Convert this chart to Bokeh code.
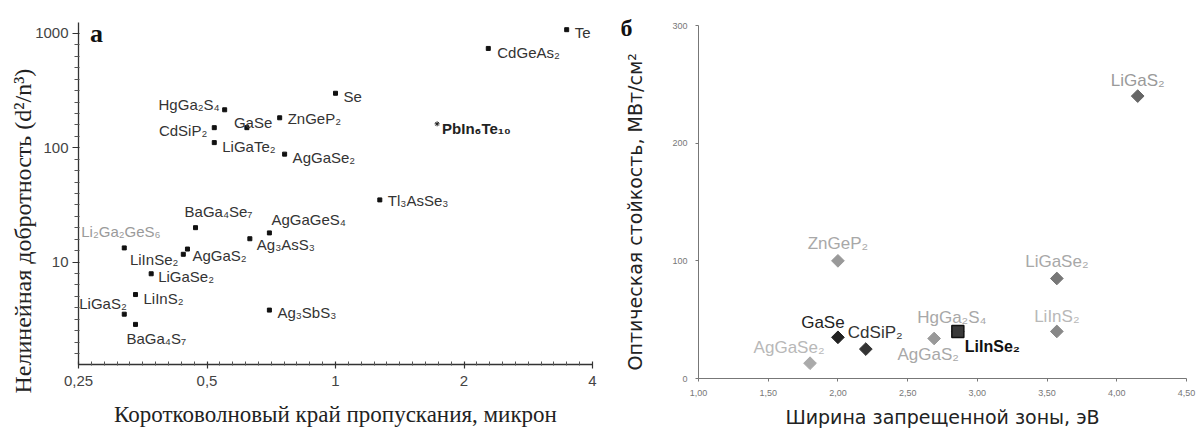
import math

from bokeh.core.properties import field, value
from bokeh.embed import file_html
from bokeh.layouts import column, row
from bokeh.models import (ColumnDataSource, CustomJSTickFormatter, FixedTicker,
                          Label, Range1d, Title)
from bokeh.plotting import figure
from bokeh.resources import INLINE

# ---------------------------------------------------------------------------
# Panel а: nonlinear figure of merit vs. short-wave transmission edge
# ---------------------------------------------------------------------------
a_names = ["Te", "CdGeAs₂", "Se", "ZnGeP₂", "GaSe", "HgGa₂S₄", "CdSiP₂",
           "LiGaTe₂", "AgGaSe₂", "Tl₃AsSe₃", "BaGa₄Se₇", "AgGaGeS₄",
           "Ag₃AsS₃", "Li₂Ga₂GeS₆", "LiInSe₂", "AgGaS₂", "LiGaSe₂",
           "LiInS₂", "LiGaS₂", "BaGa₄S₇", "Ag₃SbS₃"]
a_edge_um = [3.48, 2.28, 1.00, 0.74, 0.62, 0.55, 0.52,
             0.52, 0.76, 1.27, 0.47, 0.70,
             0.63, 0.32, 0.44, 0.45, 0.37,
             0.34, 0.32, 0.34, 0.70]
a_fom = [1080, 740, 300, 183, 150, 215, 150,
         111, 88, 35, 20, 18,
         16, 13.3, 11.7, 13.0, 7.9,
         5.2, 3.5, 2.85, 3.8]

pb_name = "PbIn₆Te₁₀"
pb_edge_um = 1.73
pb_fom = 162

a_x_ticks = [0.25, 0.5, 1, 2, 4]
a_y_ticks = [10, 100, 1000]

# ---------------------------------------------------------------------------
# Panel б: optical damage threshold vs. band gap
# ---------------------------------------------------------------------------
b_names = ["LiGaS₂", "ZnGeP₂", "LiGaSe₂", "LiInS₂", "HgGa₂S₄", "AgGaS₂",
           "GaSe", "CdSiP₂", "AgGaSe₂"]
b_gap_ev = [4.15, 2.00, 3.57, 3.57, 2.86, 2.69, 2.00, 2.20, 1.80]
b_lidt = [240, 100, 85, 40, 40, 34, 35, 25, 13]

liinse_name = "LiInSe₂"
liinse_gap_ev = 2.86
liinse_lidt = 40

b_x_ticks = [1.0, 1.5, 2.0, 2.5, 3.0, 3.5, 4.0, 4.5]
b_y_ticks = [0, 100, 200, 300]

# ---------------------------------------------------------------------------
# label placement: pixel offset from the point, alignment, colour
# ---------------------------------------------------------------------------
a_label_layout = {
    "Te": (8, 3, "left", "#333333"),
    "CdGeAs₂": (9, 4, "left", "#333333"),
    "Se": (8, 3, "left", "#333333"),
    "ZnGeP₂": (8, 1, "left", "#333333"),
    "GaSe": (-13, -5, "left", "#333333"),
    "HgGa₂S₄": (-5, -5, "right", "#333333"),
    "CdSiP₂": (-7, 3, "right", "#333333"),
    "LiGaTe₂": (8, 4, "left", "#333333"),
    "AgGaSe₂": (8, 3, "left", "#333333"),
    "Tl₃AsSe₃": (8, 1, "left", "#333333"),
    "BaGa₄Se₇": (-11, -16, "left", "#333333"),
    "AgGaGeS₄": (2, -13, "left", "#333333"),
    "Ag₃AsS₃": (7, 6, "left", "#333333"),
    "Li₂Ga₂GeS₆": (-43, -16, "left", "#9a9a9a"),
    "LiInSe₂": (-5, 5, "right", "#333333"),
    "AgGaS₂": (5, 6, "left", "#333333"),
    "LiGaSe₂": (7, 3, "left", "#333333"),
    "LiInS₂": (8, 4, "left", "#333333"),
    "LiGaS₂": (-45, -11, "left", "#333333"),
    "BaGa₄S₇": (-9, 14, "left", "#333333"),
    "Ag₃SbS₃": (8, 2, "left", "#333333"),
}

b_label_layout = {
    "LiGaS₂": (0, -16, "center", "#9a9a9a", "#666666"),
    "ZnGeP₂": (0, -17, "center", "#a8a8a8", "#999999"),
    "LiGaSe₂": (0, -17, "center", "#a8a8a8", "#777777"),
    "LiInS₂": (0, -15, "center", "#b8b8b8", "#888888"),
    "HgGa₂S₄": (-6, -14, "center", "#a8a8a8", "#888888"),
    "AgGaS₂": (-6, 16, "center", "#a8a8a8", "#999999"),
    "GaSe": (-15, -15, "center", "#222222", "#222222"),
    "CdSiP₂": (-18, -17, "left", "#333333", "#333333"),
    "AgGaSe₂": (-21, -16, "center", "#b8b8b8", "#aaaaaa"),
}

SANS = "Liberation Sans"
SERIF = "Liberation Serif"
WIDE_SANS = "DejaVu Sans"

# ---------------------------------------------------------------------------
# Panel а
# ---------------------------------------------------------------------------
pa = figure(width=598, height=432, x_axis_type="log", y_axis_type="log",
            x_range=Range1d(0.25, 4), y_range=Range1d(1.27, 1248),
            output_backend="svg", toolbar_location=None,
            min_border_left=78, min_border_right=6,
            min_border_top=22, min_border_bottom=68)
pa.outline_line_color = None
pa.xgrid.visible = False
pa.ygrid.visible = False

# evenly spaced (in log space) minor ticks: ten steps per octave / decade
a_minor_x = [a_x_ticks[0] * 2 ** (k / 10) for k in range(0, 41) if k % 10]
a_minor_y = [10 ** (k / 10) for k in range(1, 31) if k % 10]

pa.xaxis.ticker = FixedTicker(ticks=a_x_ticks, minor_ticks=a_minor_x)
pa.yaxis.ticker = FixedTicker(ticks=a_y_ticks, minor_ticks=a_minor_y)
pa.xaxis.formatter = CustomJSTickFormatter(
    code="return String(tick).replace('.', ',');")
pa.yaxis.formatter = CustomJSTickFormatter(code="return String(tick);")

for ax in (pa.xaxis[0], pa.yaxis[0]):
    ax.axis_line_color = "#333333"
    ax.axis_line_width = 1.3
    ax.major_tick_line_color = "#333333"
    ax.major_tick_line_width = 1.2
    ax.minor_tick_line_color = "#555555"
    ax.minor_tick_line_width = 1
    ax.major_label_text_font = SANS
    ax.major_label_text_font_size = "15px"
    ax.major_label_text_color = "#444444"

pa.xaxis.major_tick_in = 3
pa.xaxis.major_tick_out = 4
pa.xaxis.minor_tick_in = 3
pa.xaxis.minor_tick_out = 1
pa.xaxis.major_label_standoff = 7
pa.xaxis.axis_label = "Коротковолновый край пропускания, микрон"
pa.xaxis.axis_label_standoff = 13
pa.xaxis.axis_label_text_font = SERIF
pa.xaxis.axis_label_text_font_size = "23px"
pa.xaxis.axis_label_text_font_style = "normal"
pa.xaxis.axis_label_text_color = "#222222"

pa.yaxis.major_tick_in = 1
pa.yaxis.major_tick_out = 6
pa.yaxis.minor_tick_in = 1
pa.yaxis.minor_tick_out = 4
pa.yaxis.major_label_standoff = 4

# vertical axis caption, set a little below the frame centre
pa.add_layout(Title(text="Нелинейная добротность (d²/n³)", align="left",
                    offset=-29, standoff=-7, vertical_align="bottom",
                    text_font=SERIF, text_font_size="24px",
                    text_font_style="normal", text_color="#222222"), "left")

a_src = ColumnDataSource(dict(
    x=a_edge_um, y=a_fom, name=a_names,
    dx=[a_label_layout[n][0] for n in a_names],
    dy=[a_label_layout[n][1] for n in a_names],
    align=[a_label_layout[n][2] for n in a_names],
    color=[a_label_layout[n][3] for n in a_names],
))
pa.scatter("x", "y", source=a_src, marker="square", size=4,
           fill_color="#111111", line_color="#111111")
pa.text("x", "y", text="name", source=a_src, x_offset="dx", y_offset="dy",
        text_align=field("align"), text_color=field("color"),
        text_baseline="middle", text_font=value(SANS),
        text_font_size="15px")

pb_src = ColumnDataSource(dict(x=[pb_edge_um], y=[pb_fom], name=[pb_name]))
pa.scatter("x", "y", source=pb_src, marker="asterisk", size=5,
           line_color="#222222", line_width=1)
pa.text("x", "y", text="name", source=pb_src, x_offset=5, y_offset=5,
        text_baseline="middle", text_font=value(SANS),
        text_font_size="15px", text_font_style="bold",
        text_color="#222222")

pa.add_layout(Label(x=0.266, y=1000, text="а", text_font=SERIF,
                    text_font_size="26px", text_font_style="bold",
                    text_color="#111111", text_baseline="alphabetic"))

# ---------------------------------------------------------------------------
# Panel б
# ---------------------------------------------------------------------------
pb = figure(width=602, height=432,
            x_range=Range1d(1.0, 4.5), y_range=Range1d(0, 300),
            output_backend="svg", toolbar_location=None,
            min_border_left=93, min_border_right=14,
            min_border_top=25, min_border_bottom=54)
pb.outline_line_color = None
pb.xgrid.visible = False
pb.ygrid.visible = False

pb.xaxis.ticker = FixedTicker(ticks=b_x_ticks)
pb.yaxis.ticker = FixedTicker(ticks=b_y_ticks)
pb.xaxis.formatter = CustomJSTickFormatter(
    code="return tick.toFixed(2).replace('.', ',');")
pb.yaxis.formatter = CustomJSTickFormatter(code="return String(tick);")

for ax in (pb.xaxis[0], pb.yaxis[0]):
    ax.axis_line_color = "#777777"
    ax.axis_line_width = 1
    ax.major_tick_line_color = "#777777"
    ax.minor_tick_line_color = None
    ax.major_tick_in = 0
    ax.major_tick_out = 3
    ax.major_label_text_font = SANS
    ax.major_label_text_font_size = "9px"
    ax.major_label_text_color = "#777777"

pb.xaxis.major_label_standoff = 8
pb.yaxis.major_label_standoff = 8

pb.xaxis.axis_label = "Ширина запрещенной зоны, эВ"
pb.xaxis.axis_label_standoff = 7
pb.xaxis.axis_label_text_font = WIDE_SANS
pb.xaxis.axis_label_text_font_size = "19px"
pb.xaxis.axis_label_text_font_style = "normal"
pb.xaxis.axis_label_text_color = "#222222"

# panel letter in the top-left corner
pb.title.text = "б"
pb.title.align = "left"
pb.title.offset = -78
pb.title.standoff = -30
pb.title.vertical_align = "bottom"
pb.title.text_font = SERIF
pb.title.text_font_size = "24px"
pb.title.text_font_style = "bold"
pb.title.text_color = "#111111"

pb.add_layout(Title(text="Оптическая стойкость, МВт/см²", align="left",
                    offset=8, standoff=47, vertical_align="bottom",
                    text_font=WIDE_SANS, text_font_size="19px",
                    text_font_style="normal", text_color="#222222"), "left")

b_src = ColumnDataSource(dict(
    x=b_gap_ev, y=b_lidt, name=b_names,
    dx=[b_label_layout[n][0] for n in b_names],
    dy=[b_label_layout[n][1] for n in b_names],
    align=[b_label_layout[n][2] for n in b_names],
    color=[b_label_layout[n][3] for n in b_names],
    mcolor=[b_label_layout[n][4] for n in b_names],
))
pb.scatter("x", "y", source=b_src, marker="square", angle=math.pi / 4,
           size=9, fill_color="mcolor", line_color="mcolor")
pb.text("x", "y", text="name", source=b_src, x_offset="dx", y_offset="dy",
        text_align=field("align"), text_color=field("color"),
        text_baseline="middle", text_font=value(SANS),
        text_font_size="17px")

li_src = ColumnDataSource(dict(x=[liinse_gap_ev], y=[liinse_lidt],
                               name=[liinse_name]))
pb.scatter("x", "y", source=li_src, marker="square", size=12,
           fill_color="#3a3a3a", line_color="#111111", line_width=1.5)
pb.text("x", "y", text="name", source=li_src, x_offset=7, y_offset=15,
        text_baseline="middle", text_font=value(SANS),
        text_font_size="16px", text_font_style="bold",
        text_color="#111111")

# each panel sits in its own column so the two frames keep their own borders
layout = row(column(pa), column(pb))
open("out.html", "w").write(file_html(layout, INLINE))
